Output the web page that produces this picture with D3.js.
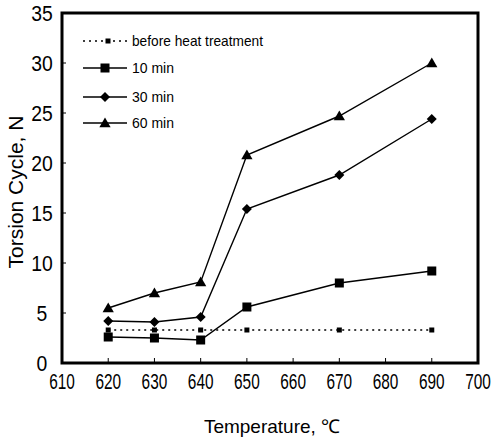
<!DOCTYPE html>
<html>
<head>
<meta charset="utf-8">
<script src="https://cdn.jsdelivr.net/npm/d3@7"></script>
<style>
  body { margin: 0; background: #fff; }
  svg { font-family: "Liberation Sans", Arial, sans-serif; }
</style>
</head>
<body>
<div id="chart"></div>
<script>
var temps = [620, 630, 640, 650, 670, 690]
var before = [3.3, 3.3, 3.3, 3.3, 3.3, 3.3]
var min10 = [2.6, 2.5, 2.3, 5.6, 8.0, 9.2]
var min30 = [4.2, 4.1, 4.6, 15.4, 18.8, 24.4]
var min60 = [5.5, 7.0, 8.1, 20.8, 24.7, 30.0]

var xTicks = [610, 620, 630, 640, 650, 660, 670, 680, 690, 700]
var yTicks = [0, 5, 10, 15, 20, 25, 30, 35]

var series = [
  {name: 'before heat treatment', values: before, marker: 'small', dash: '2,4'},
  {name: '10 min', values: min10, marker: 'square', dash: null},
  {name: '30 min', values: min30, marker: 'diamond', dash: null},
  {name: '60 min', values: min60, marker: 'triangle', dash: null}
]

var width = 496, height = 442
var margin = {left: 62, right: 18, top: 13, bottom: 79}

var svg = d3.select('#chart').append('svg')
  .attr('width', width).attr('height', height)

var g = svg.append('g').attr('transform', 'translate(' + margin.left + ',' + margin.top + ')')
var w = width - margin.left - margin.right
var h = height - margin.top - margin.bottom

var x = d3.scaleLinear().domain([610, 700]).range([0, w])
var y = d3.scaleLinear().domain([0, 35]).range([h, 0])

// frame
g.append('rect')
  .attr('width', w).attr('height', h)
  .attr('fill', 'none').attr('stroke', '#000').attr('stroke-width', 3)

// inward ticks
g.selectAll('.xt').data(xTicks.slice(1, -1)).enter().append('line')
  .attr('x1', d => x(d)).attr('x2', d => x(d))
  .attr('y1', h).attr('y2', h - 5)
  .attr('stroke', '#000').attr('stroke-width', 1)
g.selectAll('.yt').data(yTicks.slice(1, -1)).enter().append('line')
  .attr('x1', 0).attr('x2', 4)
  .attr('y1', d => y(d)).attr('y2', d => y(d))
  .attr('stroke', '#000').attr('stroke-width', 1)

// tick labels (narrow, squeezed digits)
g.selectAll('.xl').data(xTicks).enter().append('text')
  .attr('transform', d => 'translate(' + x(d) + ',' + (h + 26) + ') scale(0.7,1)')
  .attr('text-anchor', 'middle')
  .attr('font-size', 22)
  .text(d => d)

g.selectAll('.yl').data(yTicks).enter().append('text')
  .attr('transform', d => 'translate(-20,' + (y(d) + 8) + ') scale(0.88,1)')
  .attr('text-anchor', 'middle')
  .attr('font-size', 22)
  .text(d => d)

// axis titles
svg.append('text')
  .attr('x', 272).attr('y', 433)
  .attr('text-anchor', 'middle')
  .attr('font-size', 19)
  .text('Temperature, \u2103')

svg.append('text')
  .attr('transform', 'translate(23,192) rotate(-90)')
  .attr('text-anchor', 'middle')
  .attr('font-size', 21)
  .text('Torsion Cycle, N')

// marker drawing
function drawMarker(sel, type, cx, cy) {
  if (type === 'small') {
    sel.append('rect').attr('x', cx - 2.5).attr('y', cy - 2.5).attr('width', 5).attr('height', 5).attr('fill', '#000')
  } else if (type === 'square') {
    sel.append('rect').attr('x', cx - 4.5).attr('y', cy - 4.5).attr('width', 9).attr('height', 9).attr('fill', '#000')
  } else if (type === 'diamond') {
    var r = 5
    sel.append('path')
      .attr('d', 'M' + cx + ',' + (cy - r) + 'L' + (cx + r) + ',' + cy + 'L' + cx + ',' + (cy + r) + 'L' + (cx - r) + ',' + cy + 'Z')
      .attr('fill', '#000')
  } else {
    sel.append('path').attr('d', d3.symbol(d3.symbolTriangle, 55)()).attr('transform', 'translate(' + cx + ',' + (cy + 1) + ')').attr('fill', '#000')
  }
}

var line = d3.line()
  .x((d, i) => x(temps[i]))
  .y(d => y(d))

series.forEach(function(s) {
  g.append('path')
    .attr('d', line(s.values))
    .attr('fill', 'none')
    .attr('stroke', '#000')
    .attr('stroke-width', s.dash ? 1.3 : 1.4)
    .attr('stroke-dasharray', s.dash)
  s.values.forEach(function(v, i) {
    drawMarker(g, s.marker, x(temps[i]), y(v))
  })
})

// legend
var legY = [41, 68, 97, 123]
series.forEach(function(s, i) {
  var ly = legY[i]
  svg.append('line')
    .attr('x1', 83).attr('x2', 127)
    .attr('y1', ly).attr('y2', ly)
    .attr('stroke', '#000').attr('stroke-width', 1.3)
    .attr('stroke-dasharray', s.dash)
  drawMarker(svg, s.marker, i === 0 ? 108 : 105, ly)
  svg.append('text')
    .attr('x', 132).attr('y', ly + 5)
    .attr('font-size', 15)
    .attr('textLength', i === 0 ? 131 : 42)
    .attr('lengthAdjust', 'spacingAndGlyphs')
    .text(s.name)
})
</script>
</body>
</html>
